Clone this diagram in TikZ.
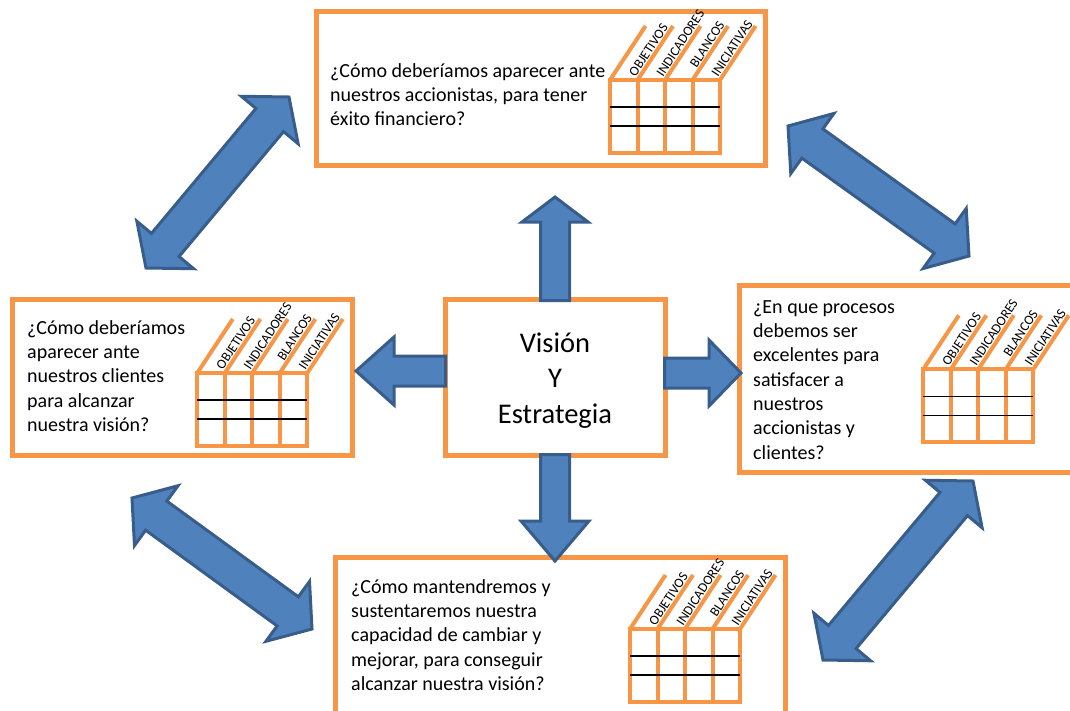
\documentclass[tikz,border=0pt]{standalone}
\usepackage{fontspec}
\setmainfont{Carlito}
\usetikzlibrary{calc}

\definecolor{boxorange}{HTML}{F79646}
\definecolor{arrowfill}{HTML}{4F81BD}
\definecolor{arrowedge}{HTML}{385D8A}

\tikzset{
  qbox/.style={draw=boxorange, line width=5pt, fill=white, inner sep=0pt, outer sep=0pt},
  qtext/.style={anchor=north west, inner sep=0pt, align=left,
                font=\fontsize{20}{24.3}\selectfont},
  tabline/.style={draw=boxorange, line width=4pt},
  rowline/.style={draw=black, line width=1.4pt},
  tablabel/.style={rotate=56.7, anchor=base west, inner sep=0pt,
                   font=\fontsize{13.5}{13.5}\selectfont},
  barrow/.style={fill=arrowfill, draw=arrowedge, line width=3pt, line join=miter},
  % score table: grid of four columns with slanted header strips
  scoretab/.pic={
    \draw[tabline] (0,0) rectangle (110,73);
    \foreach \cx in {27.5,55,82.5}{\draw[tabline] (\cx,0) -- (\cx,73);}
    \foreach \cx in {0,27.5,55,82.5,110}{\draw[tabline] (\cx,0) -- ++(35.5,-54);}
    \draw[rowline] (0,27) -- (110,27) (0,46) -- (110,46);
    \node[tablabel] (-obj) at (25.55,-2.49) {OBJETIVOS};
    \node[tablabel] (-ind) at (53.05,-2.49) {INDICADORES};
    \node[tablabel] (-bla) at (86.6,-11.65) {BLANCOS};
    \node[tablabel] (-ini) at (108.05,-2.49) {INICIATIVAS};
  }
}

% block arrow with a head at each end, between two tip coordinates
\newcommand{\dblarrow}[2]{%
  \filldraw[barrow] (#1)
    -- ($(#1)!30pt!(#2)!37pt!90:(#2)$)
    -- ($(#1)!30pt!(#2)!18pt!90:(#2)$)
    -- ($(#2)!30pt!(#1)!18pt!-90:(#1)$)
    -- ($(#2)!30pt!(#1)!37pt!-90:(#1)$)
    -- (#2)
    -- ($(#2)!30pt!(#1)!37pt!90:(#1)$)
    -- ($(#2)!30pt!(#1)!18pt!90:(#1)$)
    -- ($(#1)!30pt!(#2)!18pt!-90:(#2)$)
    -- ($(#1)!30pt!(#2)!37pt!-90:(#2)$)
    -- cycle;}

% block arrow from a base to a tip: {base}{tip}{head length}{head half width}{shaft half width}
\newcommand{\onearrow}[5]{%
  \filldraw[barrow] ($(#1)!#5!90:(#2)$)
    -- ($(#2)!#3!(#1)!#5!-90:(#1)$)
    -- ($(#2)!#3!(#1)!#4!-90:(#1)$)
    -- (#2)
    -- ($(#2)!#3!(#1)!#4!90:(#1)$)
    -- ($(#2)!#3!(#1)!#5!90:(#1)$)
    -- ($(#1)!#5!-90:(#2)$)
    -- cycle;}

\begin{document}
\begin{tikzpicture}[x=1pt, y=-1pt]
  \useasboundingbox (0,0) rectangle (1070,710);
  \clip (0,0) rectangle (1070,710);

  % perspective boxes
  \node[qbox, minimum width=449pt, minimum height=154pt] (fin) at (541,88.5) {};
  \node[qbox, minimum width=340pt, minimum height=155.5pt] (cli) at (182.5,377.25) {};
  \node[qbox, minimum width=355.5pt, minimum height=187pt] (pro) at (917.25,378.5) {};
  \node[qbox, minimum width=450pt, minimum height=177.5pt] (apr) at (560.5,646.25) {};
  \node[qbox, minimum width=220pt, minimum height=155.5pt] (cb) at (555,377.25) {};

  % questions
  \node[qtext] (fintxt) at (330,60) {\strut¿Cómo deberíamos aparecer ante\\nuestros accionistas, para tener\\éxito financiero?};
  \node[qtext] (clitxt) at (27,317) {\strut¿Cómo deberíamos\\aparecer ante\\nuestros clientes\\para alcanzar\\nuestra visión?};
  \node[qtext] (protxt) at (753,296) {\strut¿En que procesos\\debemos ser\\excelentes para\\satisfacer a\\nuestros\\accionistas y\\clientes?};
  \node[qtext] (aprtxt) at (351,576) {\strut¿Cómo mantendremos y\\sustentaremos nuestra\\capacidad de cambiar y\\mejorar, para conseguir\\alcanzar nuestra visión?};
  \node[anchor=north, inner sep=0pt, align=center,
        font=\fontsize{28.5}{35.5}\selectfont] (cbtxt) at (555,327) {\strut Visión\\Y\\Estrategia};

  % score tables
  \pic (tfin) at (610,80) {scoretab};
  \pic (tcli) at (197.3,373) {scoretab};
  \pic (tpro) at (923.3,369.3) {scoretab};
  \pic (tapr) at (630,629) {scoretab};

  % arrows from the centre
  \coordinate (upBase) at (555,300.5);   \coordinate (upTip) at (555,197);
  \coordinate (dnBase) at (555,454.5);   \coordinate (dnTip) at (555,561);
  \coordinate (lfBase) at (445.5,371);   \coordinate (lfTip) at (356,371);
  \coordinate (rtBase) at (664.5,373);   \coordinate (rtTip) at (741,373);
  \onearrow{upBase}{upTip}{25pt}{33pt}{14.5pt}
  \onearrow{dnBase}{dnTip}{40pt}{34pt}{14.5pt}
  \onearrow{lfBase}{lfTip}{38pt}{34pt}{15pt}
  \onearrow{rtBase}{rtTip}{32pt}{33pt}{15pt}

  % arrows linking neighbouring perspectives
  \coordinate (d1a) at (146,268); \coordinate (d1b) at (289,97);
  \coordinate (d2a) at (788,126); \coordinate (d2b) at (969,256);
  \coordinate (d3a) at (132,498); \coordinate (d3b) at (312,629);
  \coordinate (d4a) at (823,660); \coordinate (d4b) at (973,481);
  \dblarrow{d1a}{d1b}
  \dblarrow{d2a}{d2b}
  \dblarrow{d3a}{d3b}
  \dblarrow{d4a}{d4b}
\end{tikzpicture}
\end{document}
